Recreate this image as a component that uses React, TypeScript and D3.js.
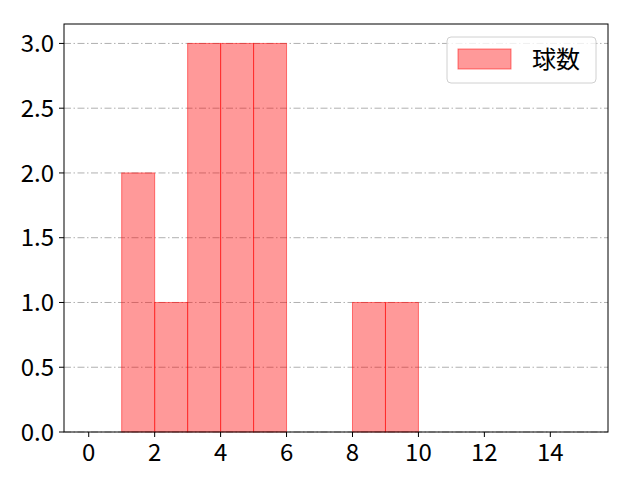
import * as d3 from "d3";

const WIDTH = 640;
const HEIGHT = 480;
const PLOT = { left: 64, right: 608, top: 24, bottom: 432 };
const FONT = "'Noto Sans CJK JP', 'Noto Sans', sans-serif";

// Histogram bins: left edges (width 1) and counts per bin.
const BIN_STARTS = [0, 1, 2, 3, 4, 5, 6, 7, 8, 9, 10, 11, 12, 13, 14];
const COUNTS = [0, 2, 1, 3, 3, 3, 0, 0, 1, 1, 0, 0, 0, 0, 0];
const X_TICKS = [0, 2, 4, 6, 8, 10, 12, 14];
const Y_TICKS = [0, 0.5, 1, 1.5, 2, 2.5, 3];
const SERIES_LABEL = "球数";

export default function App() {
  // matplotlib-style 5% margins around the data limits
  const x = d3.scaleLinear().domain([-0.75, 15.75]).range([PLOT.left, PLOT.right]);
  const y = d3.scaleLinear().domain([0, 3.15]).range([PLOT.bottom, PLOT.top]);

  const bins = BIN_STARTS.map((x0, i) => ({ x0, x1: x0 + 1, count: COUNTS[i] })).filter(
    (b) => b.count > 0,
  );

  return (
    <div style={{ position: "fixed", left: 0, top: 0 }}>
      <svg width={WIDTH} height={HEIGHT} viewBox={`0 0 ${WIDTH} ${HEIGHT}`} style={{ display: "block" }}>
        <rect x={0} y={0} width={WIDTH} height={HEIGHT} fill="#fff" />

        {/* horizontal dash-dot grid under the bars */}
        <g>
          {Y_TICKS.map((t) => (
            <line
              key={t}
              x1={PLOT.left}
              x2={PLOT.right}
              y1={y(t)}
              y2={y(t)}
              stroke="#b0b0b0"
              strokeWidth={1}
              strokeDasharray="7,2.5,1.5,2.5"
            />
          ))}
        </g>

        <g>
          {bins.map((b) => (
            <rect
              key={b.x0}
              x={x(b.x0)}
              y={y(b.count)}
              width={x(b.x1) - x(b.x0)}
              height={y(0) - y(b.count)}
              fill="red"
              fillOpacity={0.4}
              stroke="red"
              strokeOpacity={0.5}
              strokeWidth={1}
            />
          ))}
        </g>

        <rect
          x={PLOT.left}
          y={PLOT.top}
          width={PLOT.right - PLOT.left}
          height={PLOT.bottom - PLOT.top}
          fill="none"
          stroke="#000"
          strokeWidth={1}
        />

        <g fontFamily={FONT} fontSize={24} fill="#000">
          {X_TICKS.map((t) => (
            <g key={t}>
              <line x1={x(t)} x2={x(t)} y1={PLOT.bottom} y2={PLOT.bottom + 5} stroke="#000" />
              <text x={x(t)} y={PLOT.bottom + 29} textAnchor="middle">
                {t}
              </text>
            </g>
          ))}
          {Y_TICKS.map((t) => (
            <g key={t}>
              <line x1={PLOT.left - 5} x2={PLOT.left} y1={y(t)} y2={y(t)} stroke="#000" />
              <text x={PLOT.left - 10} y={y(t)} dy="0.36em" textAnchor="end">
                {t.toFixed(1)}
              </text>
            </g>
          ))}
        </g>

        {/* legend */}
        <g fontFamily={FONT} fontSize={24}>
          <rect x={447} y={37} width={149} height={46} rx={4} fill="#fff" fillOpacity={0.8} stroke="#d0d0d0" />
          <rect x={458} y={49} width={53} height={20} fill="red" fillOpacity={0.4} stroke="red" strokeOpacity={0.5} />
          <text x={532} y={68}>
            {SERIES_LABEL}
          </text>
        </g>
      </svg>
    </div>
  );
}
